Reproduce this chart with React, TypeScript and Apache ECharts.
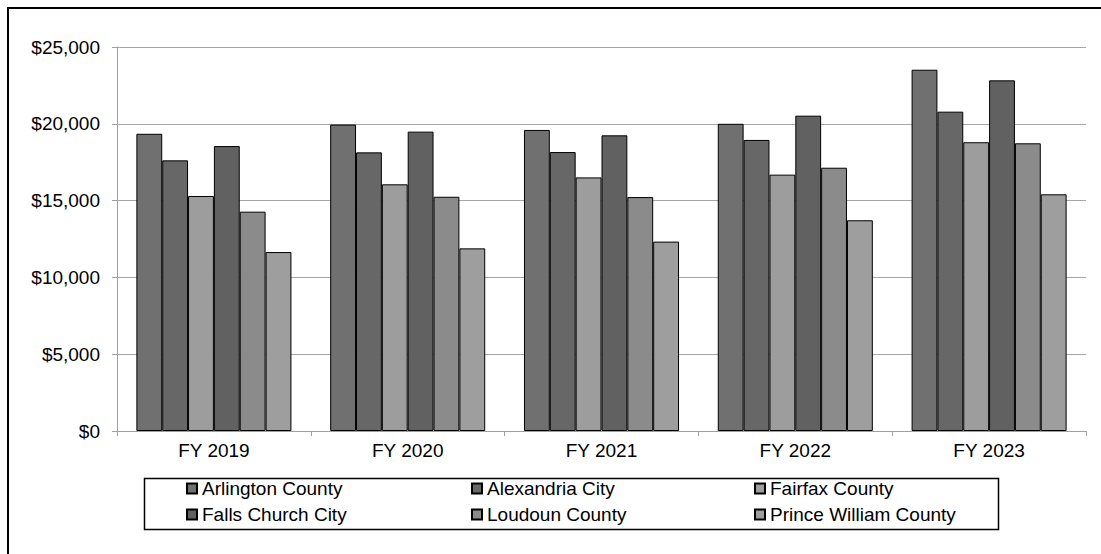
import React, { useEffect, useRef } from "react";
import * as echarts from "echarts";

const categories = ["FY 2019", "FY 2020", "FY 2021", "FY 2022", "FY 2023"];
const seriesNames = [
  "Arlington County",
  "Alexandria City",
  "Fairfax County",
  "Falls Church City",
  "Loudoun County",
  "Prince William County",
];
const arlington = [19350, 19950, 19600, 20000, 23520];
const alexandria = [17620, 18140, 18160, 18950, 20790];
const fairfax = [15300, 16060, 16510, 16690, 18800];
const fallsChurch = [18550, 19490, 19250, 20530, 22830];
const loudoun = [14280, 15250, 15230, 17140, 18730];
const princeWilliam = [11650, 11890, 12330, 13720, 15410];
const yTicks = [0, 5000, 10000, 15000, 20000, 25000];

const seriesValues = [arlington, alexandria, fairfax, fallsChurch, loudoun, princeWilliam];
const seriesColors = ["#707070", "#676767", "#9d9d9d", "#616161", "#8b8b8b", "#9e9e9e"];

const FONT = 'Arial, "Liberation Sans", sans-serif';

export default function App() {
  const ref = useRef<HTMLDivElement>(null);

  useEffect(() => {
    if (!ref.current) return;
    document.body.style.overflow = "hidden";
    const chart = echarts.init(ref.current, null, { renderer: "svg" });

    const legendCol = (names: string[], left: number) => ({
      orient: "vertical",
      left,
      top: 470,
      padding: 0,
      itemGap: 7,
      itemWidth: 10,
      itemHeight: 10,
      icon: "rect",
      selectedMode: false,
      data: names,
      textStyle: { fontFamily: FONT, fontSize: 19, color: "#000", lineHeight: 18 },
    });

    chart.setOption({
      animation: false,
      backgroundColor: "#fff",
      grid: { left: 108, right: 15, top: 38, bottom: 123 },
      xAxis: {
        type: "category",
        data: categories,
        axisLine: { lineStyle: { color: "#a0a0a0", width: 1 } },
        axisTick: { show: true, length: 5, lineStyle: { color: "#a0a0a0" } },
        axisLabel: { fontFamily: FONT, fontSize: 19, color: "#000", margin: 10 },
      },
      yAxis: {
        type: "value",
        min: yTicks[0],
        max: yTicks[yTicks.length - 1],
        interval: 5000,
        axisLine: { show: true, lineStyle: { color: "#a0a0a0", width: 1 } },
        axisTick: { show: true, length: 5, lineStyle: { color: "#a0a0a0" } },
        splitLine: { show: true, lineStyle: { color: "#a6a6a6", width: 1 } },
        axisLabel: {
          fontFamily: FONT,
          fontSize: 19,
          color: "#000",
          margin: 17,
          formatter: (v: number) => "$" + v.toLocaleString("en-US"),
        },
      },
      legend: [
        legendCol([seriesNames[0], seriesNames[3]], 177),
        legendCol([seriesNames[1], seriesNames[4]], 462),
        legendCol([seriesNames[2], seriesNames[5]], 745),
      ],
      graphic: [
        {
          type: "rect",
          left: 133,
          top: 467,
          shape: { width: 854, height: 51 },
          style: { fill: "none", stroke: "#000", lineWidth: 1.5 },
          silent: true,
        },
      ],
      series: seriesNames.map((name, i) => ({
        name,
        type: "bar",
        data: seriesValues[i],
        barGap: "0%",
        barCategoryGap: "20%",
        itemStyle: { color: seriesColors[i], borderColor: "#000", borderWidth: 1 },
      })),
    });

    return () => chart.dispose();
  }, []);

  return (
    <div
      style={{
        position: "absolute",
        left: 7,
        top: 7,
        borderLeft: "2px solid #000",
        borderTop: "2px solid #000",
        width: 1092,
        height: 545,
        background: "#fff",
      }}
    >
      <div ref={ref} style={{ width: 1092, height: 545 }} />
    </div>
  );
}
